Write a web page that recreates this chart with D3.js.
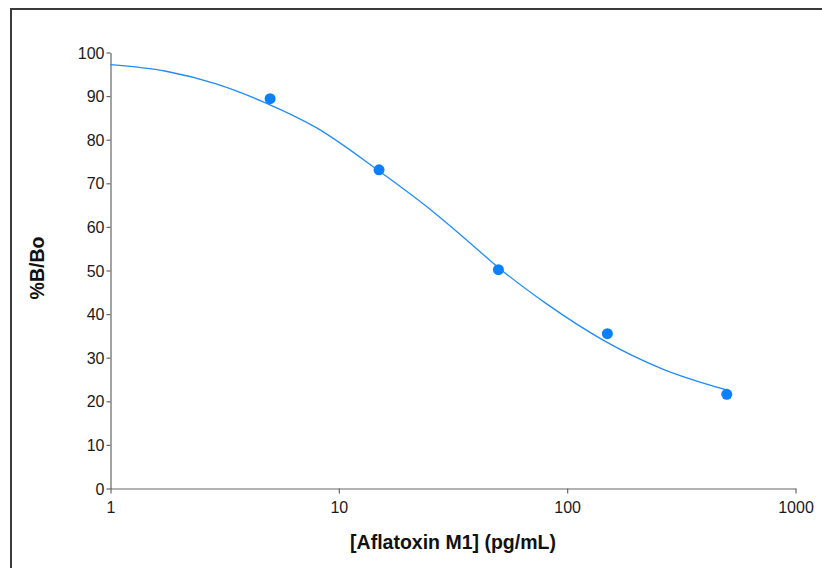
<!DOCTYPE html>
<html>
<head>
<meta charset="utf-8">
<script src="https://cdn.jsdelivr.net/npm/d3@7"></script>
<style>
  body { margin: 0; background: #fff; }
  svg { display: block; font-family: "Liberation Sans", Arial, sans-serif; }
</style>
</head>
<body>
<div id="svg-holder"></div>
<script>
// measured standards
let concs = [5, 15, 50, 150, 500]
let bbo = [89.4, 73.1, 50.2, 35.5, 21.6]

// fitted curve
let curveX = [1, 1.75, 2.9, 4.8, 8, 15, 25, 35, 51, 81, 143, 262, 500]
let curveY = [97.2, 95.7, 92.8, 88.4, 82.7, 72.8, 64.1, 57.7, 50.3, 42.4, 34.1, 27.4, 22.6]

let xTicks = [1, 10, 100, 1000]
let yTicks = [0, 10, 20, 30, 40, 50, 60, 70, 80, 90, 100]

let width = 822,
    height = 568

let svg = d3.select("#svg-holder").append('svg')
    .attr("width", width)
    .attr("height", height)

// outer frame
svg.append('rect')
    .attr('x', 11).attr('y', 9)
    .attr('width', width + 10).attr('height', height + 10)
    .attr('fill', 'none')
    .attr('stroke', '#3a3a3a')
    .attr('stroke-width', 2)

let x = d3.scaleLog()
    .domain([1, 1000])
    .range([110.5, 795.5])

let y = d3.scaleLinear()
    .domain([0, 100])
    .range([488.5, 52.5])

let xAxis = svg.append('g')
    .attr('transform', `translate(0, ${y(0)})`)
    .call(d3.axisBottom(x).tickValues(xTicks).tickFormat(d3.format('d')).tickSize(5).tickSizeOuter(0))

let yAxis = svg.append('g')
    .attr('transform', `translate(${x(1)}, 0)`)
    .call(d3.axisLeft(y).tickValues(yTicks).tickSize(4).tickSizeOuter(0))

svg.selectAll('.domain, .tick line')
    .attr('stroke', '#666')
    .attr('stroke-width', 1.2)

xAxis.selectAll('text')
    .attr('font-size', 16)
    .attr('fill', '#1a1a1a')
    .attr('dy', '1.05em')

yAxis.selectAll('text')
    .attr('font-size', 16)
    .attr('fill', '#1a1a1a')
    .attr('x', -6)
    .attr('dy', '0.35em')

// axis titles
svg.append('text')
    .attr('x', 453).attr('y', 549)
    .attr('text-anchor', 'middle')
    .attr('font-size', 19.5)
    .attr('font-weight', 'bold')
    .attr('fill', '#111')
    .text('[Aflatoxin M1] (pg/mL)')

svg.append('text')
    .attr('transform', `translate(44, 268) rotate(-90)`)
    .attr('text-anchor', 'middle')
    .attr('font-size', 19.5)
    .attr('font-weight', 'bold')
    .attr('fill', '#111')
    .text('%B/Bo')

// curve
let line = d3.line()
    .x(d => x(d[0]))
    .y(d => y(d[1]))
    .curve(d3.curveMonotoneX)

svg.append('path')
    .datum(curveX.map((c, i) => [c, curveY[i]]))
    .attr('d', line)
    .attr('fill', 'none')
    .attr('stroke', '#1e8cff')
    .attr('stroke-width', 1.3)

// points
svg.append('g')
    .selectAll('circle')
    .data(concs.map((c, i) => [c, bbo[i]]))
    .enter()
    .append('circle')
        .attr('cx', d => x(d[0]))
        .attr('cy', d => y(d[1]))
        .attr('r', 5.5)
        .attr('fill', '#0a80ff')
</script>
</body>
</html>
